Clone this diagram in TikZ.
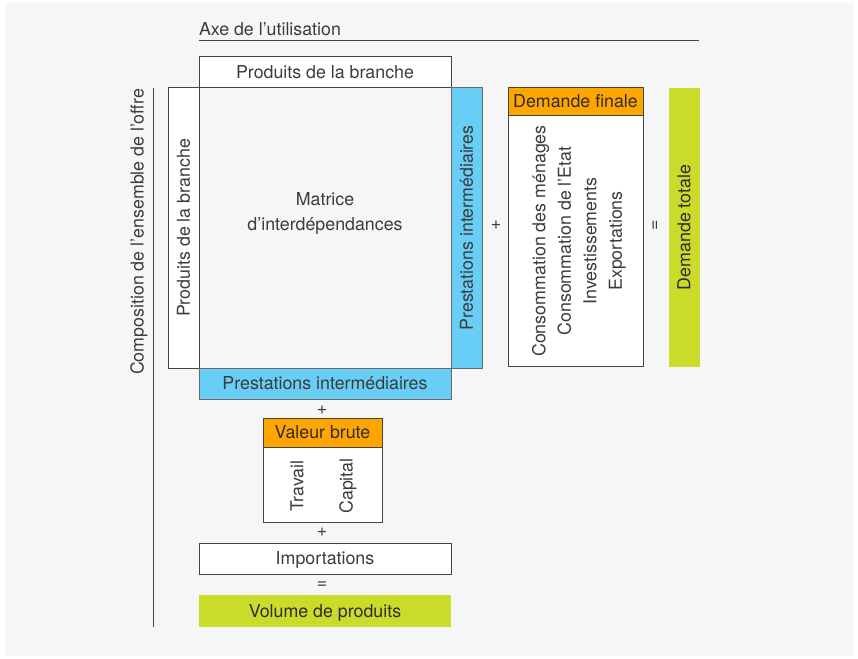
\documentclass[tikz,border=0pt]{standalone}
\usepackage{fontspec}
\setmainfont{TeX Gyre Heros}
\definecolor{bgc}{HTML}{F6F6F6}
\definecolor{bluec}{HTML}{68CEF5}
\definecolor{orangec}{HTML}{FFA500}
\definecolor{greenc}{HTML}{CBDB2A}
\definecolor{linec}{HTML}{444444}
\definecolor{txtc}{HTML}{3C3C3C}
\definecolor{darktxt}{HTML}{2E2E2E}
\tikzset{
  base/.style={inner sep=0pt, outer sep=0pt, text=txtc, font=\fontsize{17.8}{20}\selectfont},
  capc/.style={text height=12.8pt, text depth=0pt},
  box/.style={base, draw=linec, line width=1pt},
  whitebox/.style={box, fill=white, capc},
  bluebox/.style={box, draw=linec!80, fill=bluec, capc},
  orangebox/.style={box, fill=orangec, text=darktxt, capc},
  greenbox/.style={base, fill=greenc, text=darktxt, capc},
  plain/.style={base},
  vert/.style={rotate=90},
}
\begin{document}
\begin{tikzpicture}[x=1pt,y=-1pt]
\useasboundingbox (0,0) rectangle (858,658);
\fill[white] (0,0) rectangle (858,658);
\fill[bgc] (5,3) rectangle (853,656);

% axis title
\node[plain, anchor=base west] (axe) at (199,36) {Axe de l’utilisation};
\coordinate (ul1) at (199,41);
\coordinate (ul2) at (699,41);
\draw[linec, line width=1pt] (ul1) -- (ul2);

% left axis
\node[plain, vert] (comp) at (139,232) {Composition de l’ensemble de l’offre};
\coordinate (vl1) at (153,88);
\coordinate (vl2) at (153,627);
\draw[linec, line width=1pt] (vl1) -- (vl2);

% matrix block
\node[whitebox, minimum width=252pt, minimum height=31pt] (top) at (325,72.5) {Produits de la branche};
\node[whitebox, vert, minimum width=280pt, minimum height=31pt] (left) at (183.5,228) {Produits de la branche};
\node[box, minimum width=252pt, minimum height=280pt] (mat) at (325,228) {};
\node[plain, align=center, font=\fontsize{17.8}{25}\selectfont] (mtext) at (325,213) {Matrice\\d’interdépendances};
\node[bluebox, vert, minimum width=280pt, minimum height=31pt] (bluer) at (466.5,228) {Prestations intermédiaires};
\node[bluebox, minimum width=252pt, minimum height=31pt] (blueb) at (325,383.5) {Prestations intermédiaires};

% final demand
\node[plain] (plus1) at (496,225) {+};
\node[orangebox, minimum width=135pt, minimum height=27pt] (dfh) at (575.5,101.5) {Demande finale};
\node[box, fill=white, minimum width=135pt, minimum height=251pt] (dfb) at (575.5,240.5) {};
\node[plain, vert, align=center, font=\fontsize{17.8}{25.5}\selectfont] (dftext) at (579,241)
  {Consommation des ménages\\Consommation de l’Etat\\Investissements\\Exportations};
\node[plain, vert] (eq1) at (656,225) {=};
\node[greenbox, vert, minimum width=279pt, minimum height=31pt] (dt) at (684,227.5) {Demande totale};

% lower column
\node[plain] (plus2) at (322,410) {+};
\node[orangebox, minimum width=119pt, minimum height=29pt] (vbh) at (322.5,432.5) {Valeur brute};
\node[box, fill=white, minimum width=119pt, minimum height=75pt] (vbb) at (322.5,484.5) {};
\node[plain, vert] (trav) at (297,486) {Travail};
\node[plain, vert] (cap) at (348,486) {Capital};
\node[plain] (plus3) at (322,532) {+};
\node[whitebox, minimum width=252pt, minimum height=31pt] (imp) at (325,558.5) {Importations};
\node[plain] (eq2) at (322,585) {=};
\node[greenbox, minimum width=252pt, minimum height=32pt] (vol) at (325,611) {Volume de produits};
\end{tikzpicture}
\end{document}
